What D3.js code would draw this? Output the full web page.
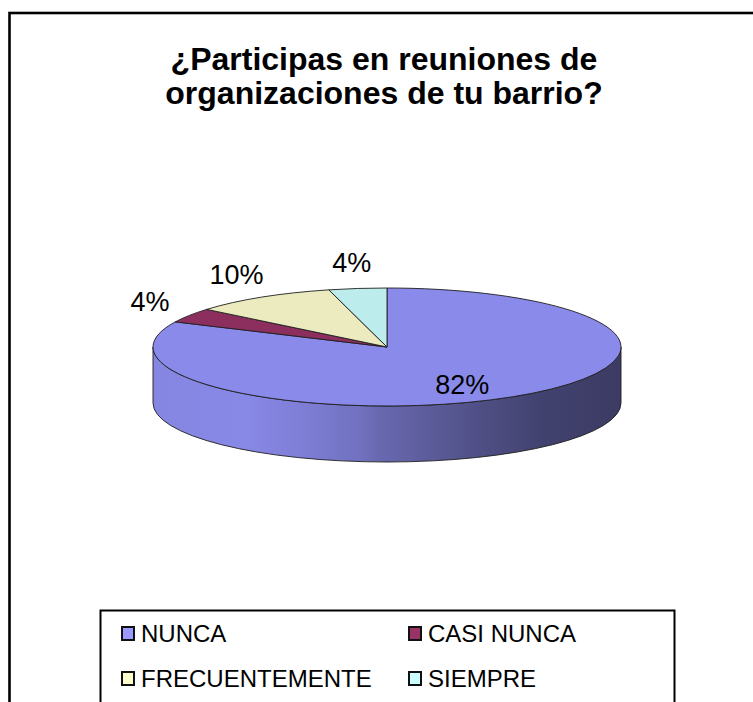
<!DOCTYPE html>
<html>
<head>
<meta charset="utf-8">
<script src="https://cdn.jsdelivr.net/npm/d3@7"></script>
<style>
  html, body { margin: 0; padding: 0; background: #fff; }
  svg { display: block; font-family: "Liberation Sans", Arial, sans-serif; }
</style>
</head>
<body>
<script>
// ---- data ----
const titleLines = ["¿Participas en reuniones de", "organizaciones de tu barrio?"];
const categories = ["NUNCA", "CASI NUNCA", "FRECUENTEMENTE", "SIEMPRE"];
const values = [82, 4, 10, 4];
const valueLabels = ["82%", "4%", "10%", "4%"];
const topColors = ["#8A8AEA", "#8C2F5E", "#EBEBBF", "#BCECEC"];
const legendColors = ["#9999FF", "#993366", "#FFFFCC", "#CCFFFF"];

// ---- layout ----
const W = 753, H = 702;
const cx = 387, cy = 347, rx = 234, ry = 59, depth = 56;

const svg = d3.select("body").append("svg").attr("width", W).attr("height", H);
const defs = svg.append("defs");

// outer frame
svg.append("rect").attr("x", 9.5).attr("y", 13).attr("width", 900).attr("height", 900)
  .attr("fill", "#fff").attr("stroke", "#000").attr("stroke-width", 2.6);

// title
svg.append("text").attr("text-anchor", "middle").attr("font-weight", "bold")
  .attr("font-size", 32).attr("fill", "#000")
  .selectAll("tspan").data(titleLines).join("tspan")
  .attr("x", 384).attr("y", (d, i) => 70 + i * 34).text(d => d);

// pie
const pie = d3.pie().sort(null).value(d => d).startAngle(0).endAngle(2 * Math.PI);
const arcs = pie(values);

const pt = (a, dy = 0) => [cx + rx * Math.sin(a), cy - ry * Math.cos(a) + dy];

// side gradients
const sideStops = [[0, 0.1], [0.2, 0.05], [0.31, 0.23], [0.44, 0.55], [0.485, 0.8], [0.7, 1.58], [0.83, 2.06], [1, 2.4]];
arcs.forEach((a, i) => {
  const g = defs.append("linearGradient").attr("id", "side" + i)
    .attr("gradientUnits", "userSpaceOnUse")
    .attr("x1", cx - rx).attr("x2", cx + rx).attr("y1", 0).attr("y2", 0);
  sideStops.forEach(([o, k]) => {
    g.append("stop").attr("offset", o).attr("stop-color", d3.color(topColors[i]).darker(k).formatHex());
  });
});

// side faces (front half only: angles pi/2 .. 3pi/2)
const sides = svg.append("g");
arcs.forEach((a, i) => {
  const s = Math.max(a.startAngle, Math.PI / 2);
  const e = Math.min(a.endAngle, 3 * Math.PI / 2);
  if (e <= s) return;
  const p0 = pt(s), p1 = pt(e), q1 = pt(e, depth), q0 = pt(s, depth);
  const path = `M${p0[0]},${p0[1]} A${rx},${ry} 0 0 1 ${p1[0]},${p1[1]} L${q1[0]},${q1[1]} A${rx},${ry} 0 0 0 ${q0[0]},${q0[1]} Z`;
  sides.append("path").attr("d", path).attr("fill", `url(#side${i})`)
    .attr("stroke", "#1e1e1e").attr("stroke-width", 0.9).attr("stroke-linejoin", "round");
});

// top faces
const arcGen = d3.arc().innerRadius(0).outerRadius(rx);
svg.append("g").attr("transform", `translate(${cx},${cy}) scale(1,${ry / rx})`)
  .selectAll("path").data(arcs).join("path")
  .attr("d", arcGen)
  .attr("fill", (d, i) => topColors[i])
  .attr("stroke", "#1e1e1e").attr("stroke-width", 0.9)
  .attr("vector-effect", "non-scaling-stroke").attr("stroke-linejoin", "round");

// value labels
const total = d3.sum(values);
svg.append("g").attr("font-size", 27).attr("fill", "#000").attr("text-anchor", "middle")
  .selectAll("text").data(arcs).join("text")
  .attr("x", d => {
    const m = (d.startAngle + d.endAngle) / 2;
    const k = d.value / total > 0.2 ? 0.6 : 1.2;
    return cx + rx * k * Math.sin(m);
  })
  .attr("y", d => {
    const m = (d.startAngle + d.endAngle) / 2;
    const k = d.value / total > 0.2 ? 0.75 : 1.45;
    return cy - ry * k * Math.cos(m);
  })
  .attr("dy", "0.36em")
  .text((d, i) => valueLabels[i]);

// legend
const lx = 100.5, ly = 610.5;
svg.append("rect").attr("x", lx).attr("y", ly).attr("width", 574).attr("height", 300)
  .attr("fill", "#fff").attr("stroke", "#000").attr("stroke-width", 2);
const items = svg.append("g").selectAll("g").data(categories).join("g")
  .attr("transform", (d, i) => `translate(${lx + 21.5 + (i % 2) * 287},${ly + 31.5 + Math.floor(i / 2) * 45})`);
items.append("rect").attr("x", 0).attr("y", -15).attr("width", 12).attr("height", 13)
  .attr("fill", (d, i) => legendColors[i]).attr("stroke", "#111").attr("stroke-width", 2);
items.append("text").attr("x", 19).attr("y", 0).attr("font-size", 24).attr("fill", "#000")
  .text(d => d);
</script>
</body>
</html>
